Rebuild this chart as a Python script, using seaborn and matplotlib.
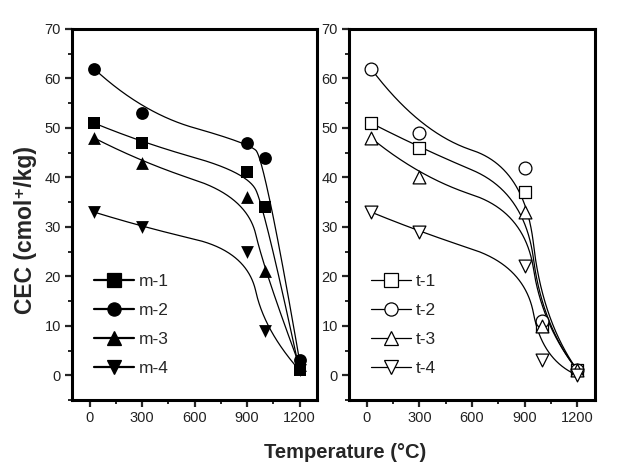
import numpy as np
import pandas as pd
import matplotlib
matplotlib.use("Agg")
import matplotlib.pyplot as plt
from matplotlib.lines import Line2D
import seaborn as sns

temperature = [25, 300, 900, 1000, 1200]

m1 = [51, 47, 41, 34, 1]
m2 = [62, 53, 47, 44, 3]
m3 = [48, 43, 36, 21, 2]
m4 = [33, 30, 25, 9, 1]

t1 = [51, 46, 37, 10, 1]
t2 = [62, 49, 42, 11, 1]
t3 = [48, 40, 33, 10, 1]
t4 = [33, 29, 22, 3, 0]

m_labels = ["m-1", "m-2", "m-3", "m-4"]
t_labels = ["t-1", "t-2", "t-3", "t-4"]
markers = ["s", "o", "^", "v"]
x_ticks = [0, 300, 600, 900, 1200]
y_ticks = [0, 10, 20, 30, 40, 50, 60, 70]

sns.set_style("ticks")
plt.rcParams["font.family"] = ["Liberation Sans", "DejaVu Sans", "Noto Sans CJK SC"]


def bspline_curve(x, y, degree=2, n=400):
    """Clamped B-spline using the data points as control points."""
    P = np.column_stack([np.asarray(x, float), np.asarray(y, float)])
    k = len(P)
    p = min(degree, k - 1)
    inner = np.linspace(0, 1, k - p + 1)[1:-1]
    knots = np.concatenate([np.zeros(p + 1), inner, np.ones(p + 1)])
    ts = np.linspace(0, 1, n)
    ts[-1] = 1 - 1e-12

    def basis(i, d, t):
        if d == 0:
            return np.where((knots[i] <= t) & (t < knots[i + 1]), 1.0, 0.0)
        a = 0.0
        den1 = knots[i + d] - knots[i]
        if den1 > 0:
            a = (t - knots[i]) / den1 * basis(i, d - 1, t)
        b = 0.0
        den2 = knots[i + d + 1] - knots[i + 1]
        if den2 > 0:
            b = (knots[i + d + 1] - t) / den2 * basis(i + 1, d - 1, t)
        return a + b

    B = np.column_stack([basis(i, p, ts) for i in range(k)])
    C = B @ P
    return C[:, 0], C[:, 1]


fig = plt.figure(figsize=(6.17, 4.72), dpi=100)
W, H = 617, 472
axL = fig.add_axes([72 / W, 1 - 400 / H, (317 - 72) / W, (400 - 29) / H])
axR = fig.add_axes([349 / W, 1 - 400 / H, (595 - 349) / W, (400 - 29) / H])


def draw(ax, series, labels, filled):
    handles = []
    for vals, lab, mk in zip(series, labels, markers):
        xs, ys = bspline_curve(temperature, vals)
        curve = pd.DataFrame({"x": xs, "y": ys})
        sns.lineplot(data=curve, x="x", y="y", ax=ax, color="black", lw=0.9,
                     legend=False, sort=False)
        pts = pd.DataFrame({"x": temperature, "y": vals})
        fc = "black" if filled else "white"
        sns.scatterplot(data=pts, x="x", y="y", ax=ax, marker=mk, s=85,
                        facecolor=fc, edgecolor="black",
                        linewidth=0.0 if filled else 0.9, zorder=3, legend=False)
        handles.append(Line2D([], [], color="black", lw=1.6 if filled else 0.9,
                              marker=mk, markersize=9.5,
                              markerfacecolor=fc, markeredgecolor="black",
                              markeredgewidth=0.9))
    ax.legend(handles, labels, loc="lower left", bbox_to_anchor=(0.06, 0.045),
              frameon=False, fontsize=12.5, handlelength=2.3,
              handletextpad=0.3, labelspacing=0.8, borderaxespad=0)
    ax.set_xlim(-100, 1300)
    ax.set_ylim(-5, 70)
    ax.set_xticks(x_ticks)
    ax.set_yticks(y_ticks)
    ax.set_xticks([150, 450, 750, 1050], minor=True)
    ax.set_yticks([-5, 5, 15, 25, 35, 45, 55, 65], minor=True)
    ax.tick_params(which="major", direction="out", length=5, width=1.6,
                   labelsize=10.5, labelcolor="#222222", pad=3)
    ax.tick_params(which="minor", direction="out", length=3, width=1.4)
    for sp in ax.spines.values():
        sp.set_visible(True)
        sp.set_linewidth(2.2)
        sp.set_color("black")
    ax.set_xlabel("")
    ax.set_ylabel("")


draw(axL, [m1, m2, m3, m4], m_labels, True)
draw(axR, [t1, t2, t3, t4], t_labels, False)

fig.text(26 / W, 1 - 230 / H, "CEC (cmol⁺/kg)", rotation=90, ha="center",
         va="center", fontsize=16.5, fontweight="bold")
fig.text(345 / W, 1 - 452 / H, "Temperature (°C)", ha="center", va="center",
         fontsize=14.5, fontweight="bold")

fig.savefig("out.png", dpi=100)
